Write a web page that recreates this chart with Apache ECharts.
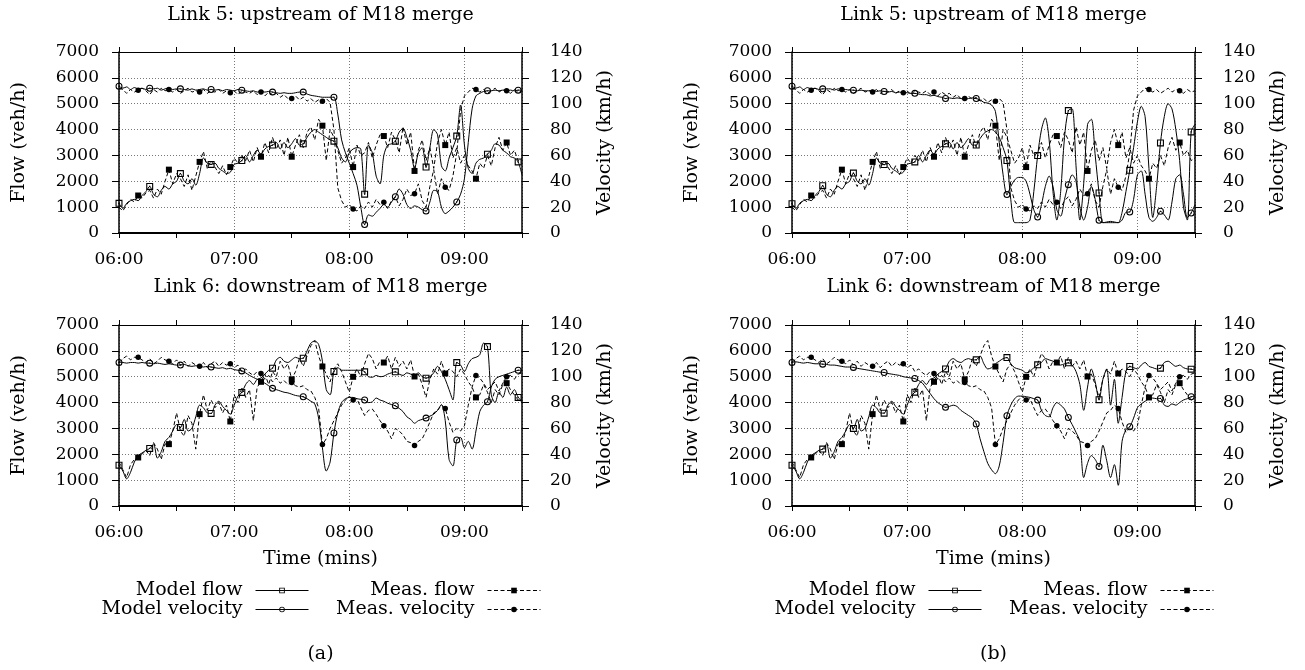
<!DOCTYPE html>
<html><head><meta charset="utf-8">
<script src="https://cdn.jsdelivr.net/npm/echarts@6/dist/echarts.min.js"></script>
<style>html,body{margin:0;padding:0;background:#fff}#c{width:1305px;height:670px}</style>
</head><body><div id="c"></div>
<script>
// ---------------- data (sampled every 2 minutes from 06:00 to 09:30) ----------------
const STEP_MIN = 2;
const tickLabels = ['06:00', '07:00', '08:00', '09:00'];
const panelTitles = ['Link 5: upstream of M18 merge', 'Link 6: downstream of M18 merge'];
const panelLetters = ['(a)', '(b)'];
const seriesNames = ['Model flow', 'Meas. flow', 'Model velocity', 'Meas. velocity'];

// Link 5, measured (same in (a) and (b))
const measFlowUp = [1000,850,1100,1300,1200,1450,1350,1550,1650,1350,
 1700,1500,2000,2450,1900,2300,2100,1800,2250,1650,
 2200,2750,3150,2500,2800,2550,2300,2600,2250,2550,
 2900,2700,3000,2800,3200,2750,3300,2950,3500,3100,
 3700,3250,3600,3000,3700,2950,3400,3800,3300,3900,
 4100,3600,4400,4150,2800,4000,3700,3200,2700,2900,
 3300,2550,3400,3000,3100,3500,2900,3400,3800,3750,
 3300,3900,3600,3100,4100,3400,3900,2400,3200,3600,
 2800,3300,2500,3500,4000,3400,3900,2900,3300,2700,
 3000,2600,2400,2100,2700,2500,3000,2600,3300,3700,
 3200,3500,3000,3200,2800,2900];
const measVelUp = [112,111,108,111,109,110.4,112,110,107,111,
 109,112,110,111,109,111,108,110,112,109,
 110,109,111,108,110,109,111,108,110,108.4,
 110,107,110,109,108,110,107,109,106,109,
 107,108,105,107,104,104,106,103,105,102,
 104,101,103,102,104,101,80,35,25,20,
 22,18.6,17,21,19,24,20,26,22,23.7,
 19,25,28,21,26,34,29,30.4,38,25,
 20,36,49,30,42,35.3,33,44,62,95,
 106,109,112,111,109,111,108,110,112,109,
 111,110,108,111,109,110];
// Link 5, model (a)
const modelFlowA5 = [1150,950,1150,1250,1300,1250,1450,1600,1800,1500,
 1400,1650,1800,1700,1900,2000,2300,2000,1900,2100,
 1850,2300,2900,2700,2650,2700,2500,2400,2300,2350,
 2650,2700,2800,3000,2750,3000,3200,3050,3250,3350,
 3400,3500,3250,3500,3300,3450,3650,3400,3450,3700,
 3900,4000,3900,3800,3700,3600,3550,3300,2900,2750,
 3100,3250,3300,3250,1500,3400,3100,2200,1900,3000,
 3400,3450,3550,3900,4050,3700,3200,2500,3100,3300,
 2550,3300,4000,3800,2600,2400,2900,3300,3750,4950,
 3400,2500,2300,2700,2850,2900,3050,3200,3450,3400,
 3200,3100,2950,2900,2750,2250];
const modelVelA5 = [113.5,112,113,111,112.5,111.5,112,111,112,111.5,
 112,110.5,111.5,112,111,111.5,111.5,111,110.5,111.5,
 110.5,111,111.5,110.5,111,110.5,111,110,111,110.5,
 110,111,110.5,110,109.5,110,109,109.5,109,109.5,
 109,108.5,108,108.5,108,108,108.5,109,109,107.5,
 106.5,106,105.5,105,105,105,105,92,72,62,
 54,46,37,20,6.5,14,13,16,19,22,
 20,24,28,34,30,22,19,21,20,18,
 17,24,33,32,20,15,17,20,24,30,
 42,70,96,106,108,109.5,110,110,110.5,110,
 110.5,110,110.5,110,110.5,110.5];
// Link 5, model (b)
const modelFlowB5 = [1135,950,1150,1250,1300,1250,1450,1600,1830,1500,
 1400,1650,1800,1700,1900,2000,2320,2000,1900,2100,
 1850,2300,2900,2700,2645,2700,2500,2400,2300,2350,
 2650,2700,2750,3000,2750,3000,3200,3050,3250,3350,
 3450,3500,3250,3500,3300,3450,3650,3400,3400,3650,
 3850,3950,4000,3900,3700,3300,2800,1300,400,400,
 400,400,500,1600,2993,4000,4450,3600,1600,500,
 1600,3700,4734,4800,2600,500,1900,4200,4400,3000,
 1548,400,400,400,400,400,800,1600,2425,3300,
 4300,4900,4500,2500,600,1800,3483,4500,5000,4800,
 4000,2800,1000,500,3909,4200];
const modelVelB5 = [113.5,112,113,111,112.5,111.5,112,111,111.5,111.5,
 111.5,110.5,111.5,111,111,110.5,110.5,110,110.5,110,
 110,110.5,109.5,110,109.5,109,109.5,108.5,109,108.5,
 108.5,108,108,107.5,107,107,106,106.5,105.5,105,
 104,104.5,104,104.5,104,103.5,104,104.5,104,103,
 101,100.5,99,94,70,45,29.7,36,41,43,
 43,40,30,18,12.4,22,36,44,36,18,
 13,26,37.4,45,40,20,10,20,36,26,
 9.8,8,8.5,9,8.5,8,10,16,16.3,26,
 45,48,30,12,9,12,16.8,14,10,24,
 42,45,30,12,15.5,22];
// Link 6, measured (same in (a) and (b))
const measFlowDown = [1700,1400,1100,1600,1800,1877,2000,2150,1950,2450,
 2200,1800,2400,2393,2900,3600,2900,2700,3500,3200,
 2200,3553,4300,3700,4100,3800,4000,3600,3900,3269,
 4300,4000,4600,4200,4500,3300,4600,4803,5100,4700,
 5200,5000,5600,5300,5500,4900,5200,5700,5400,5800,
 6200,6400,5800,5394,5100,4800,5300,5500,5200,4800,
 4400,4996,5300,5000,5500,5900,5700,5300,5600,5549,
 5800,5300,5750,5400,5600,5300,5650,5009,5100,4700,
 4200,4900,5300,5100,5600,5124,5300,5200,5000,5300,
 5100,4800,4600,4199,4300,4700,4400,4000,4500,4300,
 4700,4751,4500,4300,4100,4000];
const measVelDown = [111,114,116,113,115,115,113,111,114,110,
 112,115,113,112,110,113,109,112,108,111,
 109,108,111,107,110,112,108,111,109,110,
 107,109,104,106,103,101,104,102.5,98,101,
 96,99,95,97,94,95.5,93,92,93,90,
 89,84,76,47.5,52,60,66,72,78,82,
 85,82,83,76,70,74,75,71,66,62,
 58,52,60,58,55,50,49,46.7,50,52,
 58,65,72,74,78,75.5,65,57,60,58,
 62,78,92,101,99,95,90,93,96,89,
 95,100,101,98,102,103];
// Link 6, model (a)
const modelFlowA6 = [1580,1350,1050,1300,1700,1950,2050,2150,2225,2400,
 1850,2100,2500,2650,2900,3150,3037,3350,2900,3000,
 3450,3900,3800,3600,3578,3900,4050,3850,3700,3550,
 3900,4250,4390,4700,4850,4700,4900,4950,5100,5250,
 5331,5650,5750,5600,5550,5650,5750,5700,5718,6000,
 6300,6380,6250,5600,4500,4300,5202,5350,5250,5250,
 5250,5250,5250,5250,5189,5000,4980,5050,5000,5020,
 5100,5150,5189,5100,5050,5150,5100,5050,5150,5000,
 4945,5000,5150,5400,5200,4900,4500,4100,5549,5450,
 5200,5500,5700,5750,5850,6300,6165,4300,4000,4400,
 4200,4600,4300,4500,4199,4050];
const modelVelA6 = [111,111,110.5,111,111,110.5,111,110.5,110.5,110,
 110.5,110,109.5,110,109.5,109,109,109.5,108.5,108,
 108.5,108,107.5,108,107.5,107,106.5,107,106,106.5,
 105.5,105,104.5,103,101,99.5,98,96.5,95,93,
 91,90,89,88,87.5,86.5,85.5,85,84.5,83,
 81,79,68,45,27,34,56.5,72,80,83,
 84,84,83,82.5,82,80,80.5,83.5,82,81,
 79.5,78.5,77.5,75.5,73,69,67,64,66,67,
 68,69.5,71,74,78.5,66,36,31,51,53,
 45,50,44,58,73,78,80.6,92,98,100,
 101,102,103,104,105,105];
// Link 6, model (b)
const modelFlowB6 = [1580,1350,1050,1300,1700,1950,2050,2150,2200,2400,
 1850,2100,2500,2650,2900,3150,3000,3350,2900,3000,
 3450,3900,3800,3600,3591,3900,4050,3850,3700,3550,
 3900,4250,4400,4700,4850,4700,4900,4950,5100,5200,
 5300,5600,5700,5600,5550,5650,5700,5650,5655,5800,
 5500,5300,5350,5500,5600,5700,5742,5500,5350,5300,
 5250,5150,5200,5350,5459,5550,5700,5650,5600,5500,
 5450,5500,5536,5450,5200,4700,3700,4600,5300,4800,
 4110,4900,5300,3900,4900,3200,4200,5200,5395,5350,
 5300,5450,5550,5400,5350,5300,5330,5550,5600,5500,
 5400,5450,5350,5300,5291,5250];
const modelVelB6 = [111,111.5,111,110.5,111,110.5,110,110,109.7,109.5,
 109,109,108.5,108,107.5,107.5,107.2,106.5,106,105.5,
 105,104.5,104,103.5,103.3,102.5,102,101.5,101,100,
 99.5,99,98.6,97,95,91,87,83,80,78,
 76.3,77,78,77,74,72,70,68,63.4,52,
 42,33,28,25,31,49,69.8,78,83,85,
 85,84.5,84,83,81.9,74,70,69,76,80,
 78,75,68.5,63,57,50,22,33,39,36,
 30.5,47,35,22,32,16,50,59,61.3,68,
 76,79,81,83,83.5,83,83.2,78,77,79,
 78,80,82,83,84.5,85];

// ---------------- layout / style ----------------
const FONT = 'DejaVu Serif';
const W = 1305;
const gridBoxes = [
  {left: 119, top: 52, width: 403, height: 181},
  {left: 792, top: 52, width: 403, height: 181},
  {left: 119, top: 325, width: 403, height: 181},
  {left: 792, top: 325, width: 403, height: 181}
];
const panels = [
  {flow: modelFlowA5, vel: modelVelA5, mFlow: measFlowUp, mVel: measVelUp, title: panelTitles[0], bottom: false},
  {flow: modelFlowB5, vel: modelVelB5, mFlow: measFlowUp, mVel: measVelUp, title: panelTitles[0], bottom: false},
  {flow: modelFlowA6, vel: modelVelA6, mFlow: measFlowDown, mVel: measVelDown, title: panelTitles[1], bottom: true},
  {flow: modelFlowB6, vel: modelVelB6, mFlow: measFlowDown, mVel: measVelDown, title: panelTitles[1], bottom: true}
];
const SYM_OPEN_SQ = 'path://M0,0L10,0L10,10L0,10Z M1.6,1.6L1.6,8.4L8.4,8.4L8.4,1.6Z M4.1,4.1L5.9,4.1L5.9,5.9L4.1,5.9Z';
const SYM_OPEN_CI = 'path://M5,0A5,5,0,1,1,5,10A5,5,0,1,1,5,0Z M5,1.5A3.5,3.5,0,1,0,5,8.5A3.5,3.5,0,1,0,5,1.5Z M5,4.1A0.9,0.9,0,1,1,5,5.9A0.9,0.9,0,1,1,5,4.1Z';
const DASH = [4, 2.5];
const toXY = arr => arr.map((v, i) => [i * STEP_MIN, v]);
const tickFont = {fontFamily: FONT, fontSize: 17, color: '#000'};
const textFont = {fontFamily: FONT, fontSize: 19, color: '#000', fontWeight: 'normal'};

const grid = [], xAxis = [], yAxis = [], series = [], title = [], legend = [];
panels.forEach((p, g) => {
  const gb = gridBoxes[g];
  grid.push(Object.assign({containLabel: false, outerBoundsMode: 'none'}, gb));
  const cx = gb.left + gb.width / 2;
  title.push({text: p.title, left: cx, top: p.bottom ? 278 : 6, textAlign: 'center', padding: 0,
    textStyle: Object.assign({}, textFont)});
  // bottom axis with labels
  xAxis.push({gridIndex: g, type: 'value', position: 'bottom', min: 0, max: 210, interval: 30,
    axisLine: {show: true, onZero: false, lineStyle: {color: '#000', width: 2}},
    axisTick: {show: true, inside: false, length: 5, lineStyle: {color: '#000', width: 1}},
    axisLabel: Object.assign({show: true, margin: 18, formatter: v => (v % 60 === 0 ? tickLabels[v / 60] : '')}, tickFont),
    splitLine: {show: false},
    name: p.bottom ? 'Time (mins)' : '', nameLocation: 'middle', nameGap: 44,
    nameTextStyle: Object.assign({}, textFont)});
  // top mirror axis (border + ticks)
  xAxis.push({gridIndex: g, type: 'value', position: 'top', min: 0, max: 210, interval: 30,
    axisLine: {show: true, onZero: false, lineStyle: {color: '#000', width: 1}},
    axisTick: {show: true, inside: false, length: 5, lineStyle: {color: '#000', width: 1}},
    axisLabel: {show: false}, splitLine: {show: false}});
  // hourly vertical grid lines
  xAxis.push({gridIndex: g, type: 'value', position: 'bottom', min: 0, max: 210, interval: 60,
    axisLine: {show: false}, axisTick: {show: false}, axisLabel: {show: false},
    splitLine: {show: true, lineStyle: {color: '#777', width: 1, type: [1, 2]}}});
  yAxis.push({gridIndex: g, type: 'value', position: 'left', min: 0, max: 7000, interval: 1000,
    axisLine: {show: true, onZero: false, lineStyle: {color: '#000', width: 1.5}},
    axisTick: {show: true, inside: false, length: 7, lineStyle: {color: '#000', width: 1}},
    axisLabel: Object.assign({margin: 20, formatter: v => String(v)}, tickFont),
    splitLine: {show: true, lineStyle: {color: '#777', width: 1, type: [1, 2]}},
    name: 'Flow (veh/h)', nameLocation: 'middle', nameRotate: 90, nameGap: 90,
    nameTextStyle: Object.assign({}, textFont)});
  yAxis.push({gridIndex: g, type: 'value', position: 'right', min: 0, max: 140, interval: 20,
    axisLine: {show: true, onZero: false, lineStyle: {color: '#000', width: 1.5}},
    axisTick: {show: true, inside: false, length: 7, lineStyle: {color: '#000', width: 1}},
    axisLabel: Object.assign({margin: 28, formatter: v => String(v)}, tickFont),
    splitLine: {show: false},
    name: 'Velocity (km/h)', nameLocation: 'middle', nameRotate: 90, nameGap: 74,
    nameTextStyle: Object.assign({}, textFont)});
  const common = {type: 'line', xAxisIndex: 3 * g, yAxisIndex: 2 * g, showAllSymbol: true,
    animation: false, emphasis: {disabled: true}, silent: true};
  series.push(Object.assign({}, common, {name: seriesNames[0], data: toXY(p.flow), smooth: 0.3,
    symbol: SYM_OPEN_SQ, symbolSize: (v, prm) => (prm.dataIndex % 8 === 0 ? 7 : 0),
    lineStyle: {color: '#000', width: 1}, itemStyle: {color: '#000', borderWidth: 0}, z: 4}));
  series.push(Object.assign({}, common, {name: seriesNames[1], data: toXY(p.mFlow),
    symbol: 'rect', symbolSize: (v, prm) => (prm.dataIndex % 8 === 5 ? 6 : 0),
    lineStyle: {color: '#000', width: 1, type: DASH}, itemStyle: {color: '#000', borderWidth: 0}, z: 3}));
  series.push(Object.assign({}, common, {name: seriesNames[2], yAxisIndex: 2 * g + 1, data: toXY(p.vel), smooth: 0.3,
    symbol: SYM_OPEN_CI, symbolSize: (v, prm) => (prm.dataIndex % 8 === 0 ? 7 : 0),
    lineStyle: {color: '#000', width: 1}, itemStyle: {color: '#000', borderWidth: 0}, z: 4}));
  series.push(Object.assign({}, common, {name: seriesNames[3], yAxisIndex: 2 * g + 1, data: toXY(p.mVel),
    symbol: 'circle', symbolSize: (v, prm) => (prm.dataIndex % 8 === 5 ? 5.5 : 0),
    lineStyle: {color: '#000', width: 1, type: DASH}, itemStyle: {color: '#000', borderWidth: 0}, z: 3}));
});
// panel letters
[0, 1].forEach(k => {
  const gb = gridBoxes[2 + k];
  title.push({text: panelLetters[k], left: gb.left + gb.width / 2, top: 645, textAlign: 'center', padding: 0,
    textStyle: Object.assign({}, textFont)});
});
// legends: two columns under each bottom panel, icon on the right of the text
const legendCols = [{iconRight: 309, names: [seriesNames[0], seriesNames[2]]},
                    {iconRight: 541, names: [seriesNames[1], seriesNames[3]]}];
const rowTops = [581, 600];
[0, 673].forEach(dx => {
  legendCols.forEach(col => {
    col.names.forEach((nm, r) => {
      legend.push({data: [nm], orient: 'horizontal', align: 'right', right: W - (col.iconRight + dx), top: rowTops[r],
        itemWidth: 53, itemHeight: 7, itemGap: 0, padding: 0, selectedMode: false,
        lineStyle: {width: 1},
        textStyle: Object.assign({padding: [0, 8, 0, 0]}, textFont)});
    });
  });
});

const chart = echarts.init(document.getElementById('c'), null, {renderer: 'canvas'});
chart.setOption({backgroundColor: '#fff', animation: false, title, legend, grid, xAxis, yAxis, series});
</script>
</body></html>
